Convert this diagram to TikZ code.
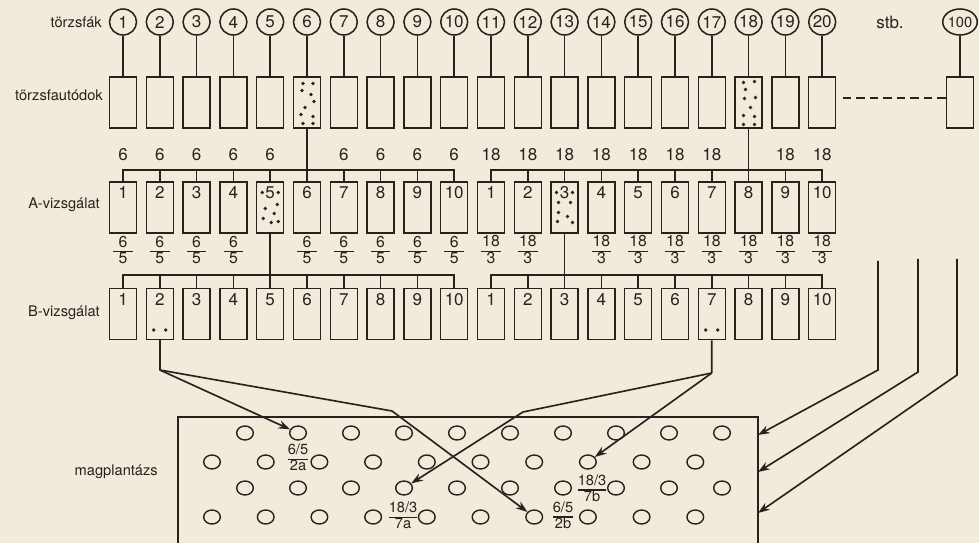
\documentclass[tikz,border=0pt]{standalone}
\usepackage{fontspec}
\setmainfont{TeX Gyre Heros}
\usetikzlibrary{shapes.geometric,arrows.meta,calc}
\definecolor{ink}{RGB}{40,33,30}
\definecolor{paper}{RGB}{240,235,218}
\renewcommand\arraystretch{0.8}
\setlength\arrayrulewidth{1pt}
\newcommand\stk[2]{\begin{tabular}{@{}c@{}}\makebox[1.25em]{#1}\\\hline #2\end{tabular}}
\newcommand\stkn[2]{\begin{tabular}{@{}c@{}}#1\\\hline #2\end{tabular}}
\begin{document}
\begin{tikzpicture}[x=0.03cm,y=-0.03cm,
  tree/.style={ellipse,draw=ink,line width=1.3pt,minimum width=0.81cm,minimum height=0.78cm,inner sep=0pt,font=\fontsize{14.5}{16}\selectfont,text=ink},
  box/.style={rectangle,draw=ink,line width=1.3pt,minimum width=0.81cm,minimum height=1.53cm,inner sep=0pt},
  num/.style={font=\fontsize{14.5}{16}\selectfont,text=ink,inner sep=0pt},
  lab/.style={font=\fontsize{12.5}{14}\selectfont,text=ink,anchor=east,inner sep=0pt},
  fr/.style={font=\fontsize{13.5}{15}\selectfont,text=ink,inner sep=0pt},
  frs/.style={font=\fontsize{12.5}{14}\selectfont,text=ink,inner sep=0pt},
  seed/.style={ellipse,draw=ink,line width=1.2pt,minimum width=0.5cm,minimum height=0.42cm,inner sep=0pt},
  conn/.style={draw=ink,line width=1.4pt},
  arr/.style={conn,-{Stealth[length=10pt,width=7pt]}},
  dot/.style={fill=ink,circle,inner sep=0pt,minimum size=3.2pt}]
\useasboundingbox (0,0) rectangle (979,543);
\clip (0,0) rectangle (979,543);
\fill[paper] (0,0) rectangle (979,543);

% left labels
\node[lab] (l1) at (102,22) {törzsfák};
\node[lab] (l2) at (103,95) {törzsfautódok};
\node[lab] (l3) at (100,205) {A-vizsgálat};
\node[lab] (l4) at (100,313) {B-vizsgálat};
\node[lab] (l5) at (158,472) {magplantázs};

% columns
\foreach \i in {1,...,20}{
  \pgfmathsetmacro\cx{123+(\i-1)*36.8}
  \node[tree] (t\i) at (\cx,22) {\i};
  \node[box] (tb\i) at (\cx,102.5) {};
  \draw[conn] (t\i) -- (tb\i);
  \node[box] (a\i) at (\cx,207.5) {};
  \node[box] (b\i) at (\cx,314) {};
}
\node[tree,font=\fontsize{12.5}{14}\selectfont] (t100) at (960,22) {100};
\node[box] (tb100) at (960,102.5) {};
\draw[conn] (t100) -- (tb100);
\node[num] (stb) at (890,22) {stb.};
\coordinate (dashstart) at (843,98);
\draw[conn,dash pattern=on 7pt off 4.5pt] (dashstart) -- (tb100.west |- dashstart);

% box numbers
\foreach \i in {1,...,10}{
  \pgfmathtruncatemacro\j{\i+10}
  \node[num] (an\i) at ($(a\i.north)+(0,11)$) {\i};
  \node[num] (an\j) at ($(a\j.north)+(0,11)$) {\i};
  \node[num] (bn\i) at ($(b\i.north)+(0,12)$) {\i};
  \node[num] (bn\j) at ($(b\j.north)+(0,12)$) {\i};
}

% A buses
\coordinate (abus) at (0,170);
\draw[conn] (a1.north) -- (a1.north|-abus) -- (a10.north|-abus) -- (a10.north);
\draw[conn] (a11.north) -- (a11.north|-abus) -- (a20.north|-abus) -- (a20.north);
\foreach \i in {2,3,4,5,7,8,9,12,13,14,15,16,17,19}{
  \draw[conn] (a\i.north|-abus) -- (a\i.north);
}
\draw[conn] (tb6) -- (a6);
\draw[conn] (tb18) -- (a18);
\foreach \i in {1,2,3,4,5,7,8,9,10}{
  \node[num] (u\i) at ($(a\i.north|-abus)+(0,-15)$) {6};
}
\foreach \i in {11,12,13,14,15,16,17,19,20}{
  \node[num] (u\i) at ($(a\i.north|-abus)+(0,-15)$) {18};
}

% fractions under A
\foreach \i in {1,2,3,4,6,7,8,9,10}{
  \node[fr] (f\i) at ($(a\i.south)+(0,18)$) {\stk{6}{5}};
}
\foreach \i in {11,12,14,15,16,17,18,19,20}{
  \node[fr] (f\i) at ($(a\i.south)+(0,18)$) {\stk{18}{3}};
}

% B buses
\coordinate (bbus) at (0,275);
\draw[conn] (b1.north) -- (b1.north|-bbus) -- (b10.north|-bbus) -- (b10.north);
\draw[conn] (b11.north) -- (b11.north|-bbus) -- (b20.north|-bbus) -- (b20.north);
\foreach \i in {2,3,4,6,7,8,9,12,14,15,16,17,18,19}{
  \draw[conn] (b\i.north|-bbus) -- (b\i.north);
}
\draw[conn] (a5) -- (b5);
\draw[conn] (a13) -- (b13);

% dots in selected boxes
\foreach \dx/\dy in {-4/-19,6/-19,-5/-12,4/-8,7/-1,-2/5,-6/12,6/14,-4/21,6/21}{
  \node[dot] at ($(tb6.center)+(\dx,\dy)$) {};
}
\foreach \dx/\dy in {-5/-20,6/-21,-3/-13,7/-5,-4/-4,2/5,-5/13,6/14,-5/22,6/22}{
  \node[dot] at ($(tb18.center)+(\dx,\dy)$) {};
}
\foreach \dx/\dy in {-8/-15,8/-15,7/-3,-5/1,4/6,-7/11,1/15,8/14}{
  \node[dot] at ($(a5.center)+(\dx,\dy)$) {};
}
\foreach \dx/\dy in {-8/-15,8/-15,-6/-5,6/-5,-6/5,3/9,-7/14,8/15}{
  \node[dot] at ($(a13.center)+(\dx,\dy)$) {};
}
\foreach \dx in {-6,6}{
  \node[dot] at ($(b2.center)+(\dx,16)$) {};
  \node[dot] at ($(b17.center)+(\dx,16)$) {};
}

% seed plantation
\draw[conn] (178,560) -- (178,417) -- (758,417) -- (758,560);
\foreach \k in {0,...,9}{
  \node[seed] (s1-\k) at ({245+53*\k},433) {};
  \node[seed] (s3-\k) at ({245+53*\k},488) {};
  \node[seed] (s2-\k) at ({212+53.7*\k},462) {};
  \node[seed] (s4-\k) at ({212+53.7*\k},517) {};
}
\node[frs] (l2a) at (298,459) {\stkn{6/5}{2a}};
\node[frs] (l2b) at (563,517) {\stkn{6/5}{2b}};
\node[frs] (l7a) at (403,517) {\stkn{18/3}{7a}};
\node[frs] (l7b) at (592,490) {\stkn{18/3}{7b}};

% connectors to plantation
\coordinate (j2) at (159.8,370);
\coordinate (k2) at (392,411);
\draw[conn] (b2) -- (j2);
\draw[arr] (j2) -- (s1-1);
\draw[arr] (j2) -- (k2) -- (s4-6);
\coordinate (j17) at (711.8,373);
\coordinate (k17) at (523,412);
\draw[conn] (b17) -- (j17);
\draw[arr] (j17) -- (k17) -- (s3-3);
\draw[arr] (j17) -- (s2-7);

\coordinate (r1) at (878,261);
\coordinate (r2) at (918,259);
\coordinate (r3) at (957,259);
\coordinate (q1) at (878,370);
\coordinate (q2) at (918,372);
\coordinate (q3) at (957,375);
\coordinate (e1) at (758,435);
\coordinate (e2) at (758,472);
\coordinate (e3) at (758,513);
\draw[arr] (r1) -- (q1) -- (e1);
\draw[arr] (r2) -- (q2) -- (e2);
\draw[arr] (r3) -- (q3) -- (e3);
\end{tikzpicture}
\end{document}
